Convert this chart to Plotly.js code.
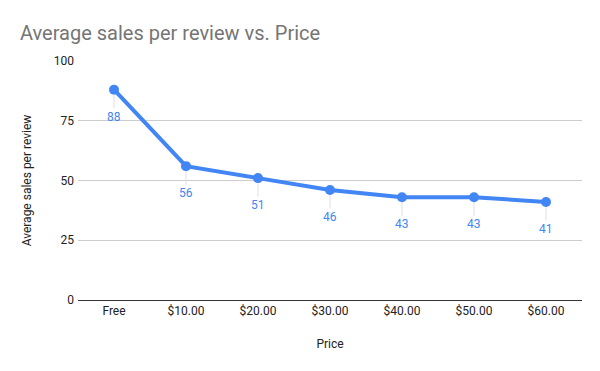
<!DOCTYPE html>
<html><head><meta charset="utf-8">
<script src="https://cdn.plot.ly/plotly-3.0.1.min.js"></script>
<style>html,body{margin:0;padding:0;background:#fff}#c{width:600px;height:371px}</style>
</head><body><div id="c"></div>
<script>
const categories = ["Free", "$10.00", "$20.00", "$30.00", "$40.00", "$50.00", "$60.00"];
const values = [88, 56, 51, 46, 43, 43, 41];
const yTicks = [0, 25, 50, 75, 100];
const blue = "#4285F4";
const ff = "Roboto, Arial, sans-serif";

const trace = {
  x: categories, y: values, type: "scatter", mode: "lines+markers",
  line: {color: blue, width: 4}, marker: {color: blue, size: 10},
  hoverinfo: "none", cliponaxis: false
};
const annotations = categories.map((c, i) => ({
  x: c, y: values[i], xref: "x", yref: "y", text: String(values[i]),
  showarrow: true, arrowhead: 0, arrowwidth: 1, arrowcolor: "#e0e0e0",
  ax: 0, ay: 27, standoff: 5, font: {family: ff, size: 12, color: blue}
}));
annotations.push({
  text: "Average sales per review vs. Price", xref: "paper", yref: "paper",
  x: -60/504, xanchor: "left", y: 1 + 28/239, yanchor: "middle", showarrow: false,
  font: {family: ff, size: 20, color: "#757575"}
});
const layout = {
  width: 600, height: 371,
  margin: {l: 78, r: 18, t: 61, b: 71},
  paper_bgcolor: "#fff", plot_bgcolor: "#fff",
  showlegend: false,
  xaxis: {
    type: "category", range: [-0.5, 6.5], showgrid: false,
    showline: true, linecolor: "#333", linewidth: 1,
    tickfont: {family: ff, size: 12, color: "#222"}, ticks: "",
    title: {text: "Price", font: {family: ff, size: 12, color: "#222"}, standoff: 22}
  },
  yaxis: {
    range: [0, 100], tickvals: yTicks, showgrid: true, gridcolor: "#cccccc",
    zeroline: false, showline: false, ticks: "", ticklen: 0, ticklabelstandoff: 3,
    tickfont: {family: ff, size: 12, color: "#222"},
    title: {text: "Average sales per review", font: {family: ff, size: 12, color: "#222"}, standoff: 19}
  },
  annotations: annotations
};
Plotly.newPlot("c", [trace], layout, {displayModeBar: false, staticPlot: true});
</script></body></html>
